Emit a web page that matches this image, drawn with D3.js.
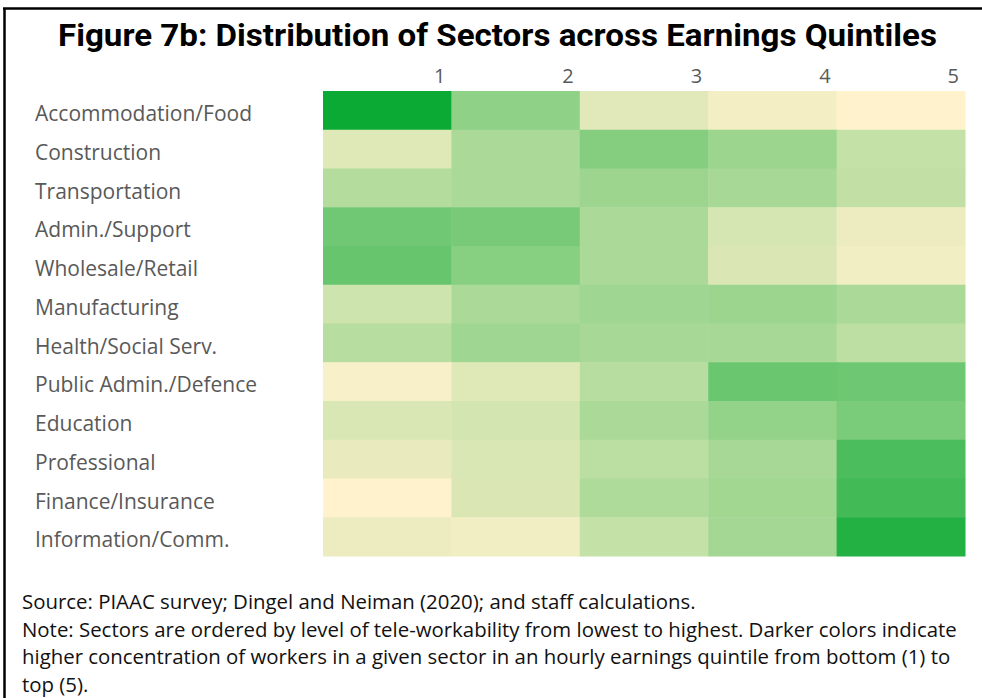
<!DOCTYPE html>
<html>
<head>
<meta charset="utf-8">
<script src="https://cdn.jsdelivr.net/npm/d3@7"></script>
<style>
  body { margin: 0; background: #fff; }
  svg { display: block; }
</style>
</head>
<body>
<script>
// sectors, ordered by tele-workability (lowest first)
var sectors = ["Accommodation/Food", "Construction", "Transportation", "Admin./Support",
    "Wholesale/Retail", "Manufacturing", "Health/Social Serv.", "Public Admin./Defence",
    "Education", "Professional", "Finance/Insurance", "Information/Comm."];

// earnings quintiles
var quintiles = ["1", "2", "3", "4", "5"];

// share of sector workers in each quintile (%), one array per quintile
var q1 = [50.0, 11.7, 19.6, 31.5, 33.3, 14.8, 18.8, 7.3, 13.0, 10.0, 6.0, 9.5];
var q2 = [26.2, 21.0, 21.0, 30.2, 27.6, 21.0, 23.2, 11.7, 13.9, 13.0, 12.6, 8.6];
var q3 = [11.3, 28.0, 23.6, 21.0, 21.0, 23.2, 21.8, 18.8, 21.0, 18.3, 20.5, 16.6];
var q4 = [8.2, 24.0, 21.8, 13.5, 12.6, 24.0, 21.6, 32.8, 25.4, 21.8, 22.7, 22.3];
var q5 = [6.0, 16.6, 17.0, 9.5, 8.6, 21.0, 17.9, 32.0, 29.8, 38.1, 39.9, 45.6];

var titleText = "Figure 7b: Distribution of Sectors across Earnings Quintiles";
var noteLines = [
    "Source: PIAAC survey; Dingel and Neiman (2020); and staff calculations.",
    "Note: Sectors are ordered by level of tele-workability from lowest to highest. Darker colors indicate",
    "higher concentration of workers in a given sector in an hourly earnings quintile from bottom (1) to",
    "top (5)."
];

(function(){

    var width = 982,
        height = 698;

    var svg = d3.select("body")
        .append("svg")
        .attr("width", width)
        .attr("height", height);

    // frame: only left and top lines show in the picture
    svg.append("line")
        .attr("x1", 4.5).attr("x2", 4.5)
        .attr("y1", 8).attr("y2", height)
        .attr("stroke", "#000").attr("stroke-width", 2.5);
    svg.append("line")
        .attr("x1", 3).attr("x2", width)
        .attr("y1", 8.5).attr("y2", 8.5)
        .attr("stroke", "#000").attr("stroke-width", 2.5);

    // title
    svg.append("text")
        .attr("x", 58)
        .attr("y", 46)
        .attr("font-family", "Roboto, 'Open Sans', sans-serif")
        .attr("font-weight", "bold")
        .attr("font-size", 31)
        .attr("fill", "#000")
        .attr("textLength", 879)
        .attr("lengthAdjust", "spacingAndGlyphs")
        .text(titleText);

    // build the cell table
    var series = [q1, q2, q3, q4, q5];
    var cells = [];
    sectors.forEach(function(s, i){
        quintiles.forEach(function(q, j){
            cells.push({sector: s, quintile: q, value: series[j][i]});
        });
    });

    var x = d3.scaleBand()
        .domain(quintiles)
        .range([323, 965]);

    var y = d3.scaleBand()
        .domain(sectors)
        .range([91, 556]);

    var color = d3.scaleLinear()
        .domain(d3.extent(cells, function(d){ return d.value; }))
        .range(["#FFF2CC", "#0AAA34"])
        .interpolate(d3.interpolateRgb);

    svg.selectAll(".cell")
        .data(cells)
        .enter()
        .append("rect")
        .attr("class", "cell")
        .attr("x", function(d){ return x(d.quintile); })
        .attr("y", function(d){ return y(d.sector); })
        .attr("width", x.bandwidth() + 0.5)
        .attr("height", y.bandwidth() + 0.5)
        .attr("fill", function(d){ return color(d.value); });

    // column headers, right aligned in each column
    var topAxis = svg.append("g")
        .attr("transform", "translate(0,83)")
        .call(d3.axisTop(x).tickSize(0).tickPadding(0));
    topAxis.select(".domain").remove();
    topAxis.selectAll("text")
        .attr("x", x.bandwidth() / 2 - 6)
        .attr("text-anchor", "end")
        .attr("font-family", "'Open Sans', sans-serif")
        .attr("font-size", 20)
        .attr("fill", "#595959");

    // row labels
    var leftAxis = svg.append("g")
        .attr("transform", "translate(35,3.5)")
        .call(d3.axisLeft(y).tickSize(0).tickPadding(0));
    leftAxis.select(".domain").remove();
    leftAxis.selectAll("text")
        .attr("text-anchor", "start")
        .attr("dy", "0.35em")
        .attr("font-family", "'Open Sans', sans-serif")
        .attr("font-size", 21)
        .attr("fill", "#595959");

    // source and note
    svg.selectAll(".note")
        .data(noteLines)
        .enter()
        .append("text")
        .attr("class", "note")
        .attr("x", 22)
        .attr("y", function(d, i){ return 609 + i * 27.5; })
        .attr("font-family", "'Open Sans', sans-serif")
        .attr("font-size", 20.4)
        .attr("fill", "#111")
        .text(function(d){ return d; });

})();
</script>
</body>
</html>
